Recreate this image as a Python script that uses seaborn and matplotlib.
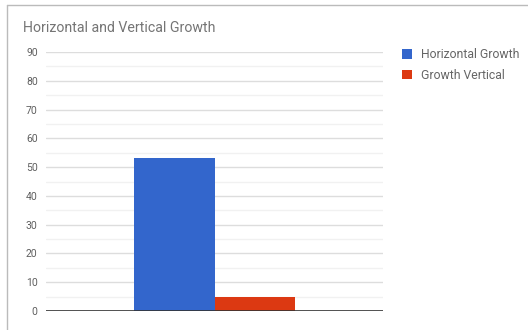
import matplotlib
matplotlib.use("Agg")
import matplotlib.pyplot as plt
from matplotlib.lines import Line2D
from matplotlib.patches import Patch
import seaborn as sns
import pandas as pd

categories = [""]
series = ["Horizontal Growth", "Growth Vertical"]
values = [53, 5]
colors = ["#3366cc", "#dc3912"]
yticks = [0, 10, 20, 30, 40, 50, 60, 70, 80, 90]

df = pd.DataFrame({"cat": categories * len(series), "series": series, "value": values})

sns.set_style("white")
plt.rcParams["font.family"] = ["Roboto", "DejaVu Sans"]

W, H = 528, 330
fig = plt.figure(figsize=(W / 100, H / 100), dpi=100)
ax = fig.add_axes([46 / W, 1 - 311 / H, (383 - 46) / W, (311 - 52) / H])

sns.barplot(data=df, x="cat", y="value", hue="series", palette=colors,
            width=0.478, ax=ax, legend=False, saturation=1, edgecolor="none")
ax.set_xlim(-0.5, 0.5)
ax.set_ylim(0, 90)

for v in range(5, 90, 10):
    ax.axhline(v, color="#f1f1f1", lw=1, zorder=0)
for v in yticks[1:]:
    ax.axhline(v, color="#dddddd", lw=1, zorder=0)
ax.axhline(0, color="#333333", lw=1.2, zorder=3)

ax.set_yticks(yticks)
ax.set_yticklabels([str(t) for t in yticks], color="#5f5f5f", fontsize=7.5)
ax.tick_params(axis="y", length=0, pad=6)
ax.set_xticks([])
ax.set_xlabel("")
ax.set_ylabel("")
for s in ax.spines.values():
    s.set_visible(False)

fig.text(23 / W, 1 - 28 / H, "Horizontal and Vertical Growth", fontsize=10.2,
         color="#757575", va="center", ha="left")

handles = [Patch(facecolor=c, edgecolor="none") for c in colors]
fig.legend(handles, series, loc="upper left", bbox_to_anchor=(397 / W, 1 - 43 / H),
           frameon=False, fontsize=8.8, labelcolor="#666666", handlelength=0.85,
           handleheight=0.85, handletextpad=0.7, labelspacing=0.65, borderaxespad=0)

# outer frame (screenshot border)
fig.add_artist(Line2D([7 / W, 7 / W], [0, 1 - 5 / H], transform=fig.transFigure,
                      color="#bbbbbb", lw=1))
fig.add_artist(Line2D([7 / W, 1], [1 - 5 / H, 1 - 5 / H], transform=fig.transFigure,
                      color="#bbbbbb", lw=1))

fig.savefig("out.png", dpi=100)
